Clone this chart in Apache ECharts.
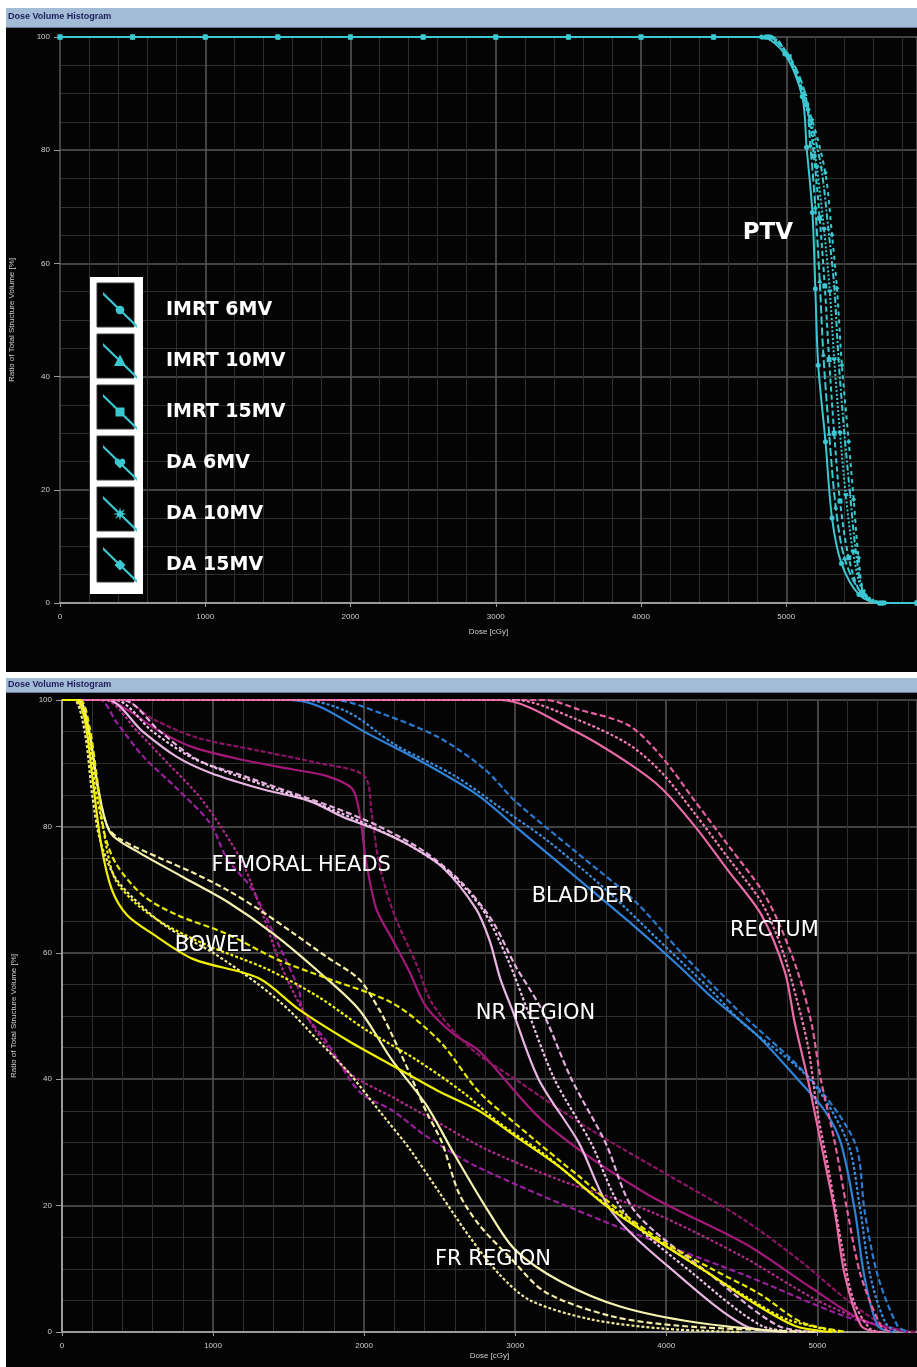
<!DOCTYPE html>
<html><head><meta charset="utf-8">
<script src="https://cdn.jsdelivr.net/npm/echarts@6/dist/echarts.min.js"></script>
<style>html,body{margin:0;padding:0;background:#fff}#c{width:917px;height:1367px}</style>
</head><body><div id="c"></div>
<script>
// ---------- DATA (dose cGy, volume %) ----------
const panelTitles = ['Dose Volume Histogram', 'Dose Volume Histogram'];
const xAxisName = 'Dose [cGy]';
const yAxisName = 'Ratio of Total Structure Volume [%]';

// Top panel: PTV, six plans
const planNames = ['IMRT 6MV', 'IMRT 10MV', 'IMRT 15MV', 'DA 6MV', 'DA 10MV', 'DA 15MV'];
const ptvPlateau = [[0,100],[500,100],[1000,100],[1500,100],[2000,100],[2500,100],[3000,100],[3500,100],[4000,100],[4500,100]];
const ptvImrt6MV  = [[4830,100],[4990,97],[5110,89.5],[5140,80.5],[5180,69],[5200,55.5],[5220,42],[5270,28.5],[5315,15],[5380,7],[5500,1.5],[5640,0],[5900,0]];
const ptvImrt10MV = [[4850,100],[5010,97],[5130,90],[5165,81],[5200,70],[5230,57],[5255,44],[5295,30],[5340,17],[5400,8],[5510,2],[5650,0],[5900,0]];
const ptvImrt15MV = [[4870,100],[5020,96.5],[5140,88],[5190,79],[5230,68],[5265,56],[5295,43],[5330,30],[5370,18],[5430,8],[5520,1.5],[5660,0],[5900,0]];
const ptvDa6MV    = [[4880,100],[5015,96.5],[5150,87],[5210,77],[5260,66],[5300,55],[5330,43],[5370,30],[5410,19],[5460,9],[5530,2],[5670,0],[5900,0]];
const ptvDa10MV   = [[4890,100],[5017,96.3],[5160,86],[5240,77],[5290,66],[5330,56],[5360,43],[5400,30],[5440,19],[5480,9],[5540,1.5],[5680,0],[5900,0]];
const ptvDa15MV   = [[4900,100],[5017,96.3],[5177,85.4],[5269,76],[5315,65],[5349,55.6],[5383,42],[5430,28.5],[5464,18.3],[5498,8],[5544,1.4],[5682,0],[5900,0]];
const ptvLabel = 'PTV';
const ptvLabelAt = [4700, 65.4];

// Bottom panel: organs at risk
const bladderA = [[0,100],[1500,100],[1700,99],[2000,95],[2400,90],[2750,85],[3000,80],[3400,72],[3750,65],[4080,58],[4300,53],[4600,47],[4870,40],[5050,35],[5155,30],[5250,19],[5310,9],[5400,1],[5500,0]];
const bladderB = [[0,100],[1800,100],[2100,98],[2500,94],[2800,89],[3000,84],[3400,76],[3800,68],[4100,60],[4470,51],[4957,40],[5248,30],[5314,19],[5399,9],[5530,1],[5600,0]];
const bladderC = [[0,100],[1600,100],[1900,98],[2200,93],[2600,88],[2900,83],[3200,78],[3600,70],[3950,62],[4300,54],[4500,49],[4950,40],[5200,30],[5280,20],[5350,9],[5450,1.5],[5530,0]];
const rectumA = [[0,100],[2900,100],[3400,95],[3750,90],[3970,86],[4190,80],[4410,73],[4630,66],[4785,57],[4850,49],[4937,40],[5023,30],[5116,19],[5182,9],[5290,1],[5400,0]];
const rectumB = [[0,100],[3200,100],[3420,98.5],[3750,96],[3970,91],[4190,84],[4410,77],[4630,70],[4740,65],[4870,57],[4960,49],[5023,40],[5116,30],[5200,19],[5287,9],[5420,1],[5480,0]];
const rectumC = [[0,100],[3000,100],[3400,97],[3750,93],[3970,88.5],[4190,82],[4410,75],[4630,68],[4760,61],[4860,53],[4940,45],[5000,35],[5080,25],[5160,14],[5240,5],[5350,0.5],[5440,0]];
const nrA = [[0,100],[300,100],[535,95],[760,91],[980,88.5],[1310,86],[1640,84],[1860,81.5],[2080,79.5],[2300,77],[2520,73.5],[2740,67],[2830,62],[2900,56],[2980,51],[3155,40],[3420,30],[3640,19],[4080,9],[4520,1],[4800,0]];
const nrB = [[0,100],[400,100],[650,95],[900,90.5],[1200,88],[1500,85.5],[1800,83],[2100,80],[2400,76],[2650,71],[2850,65],[3000,58],[3175,51],[3373,40],[3597,30],[3795,19],[4297,9],[4739,1],[5000,0]];
const nrC = [[0,100],[350,100],[600,95],[850,91],[1100,88.5],[1400,86],[1700,83.5],[2000,80.5],[2300,77],[2550,73],[2780,67],[2950,59],[3080,51],[3260,40],[3500,30],[3720,19],[4190,9],[4630,1],[4900,0]];
const bowelA = [[0,100],[90,100],[150,97],[200,88],[260,77],[330,70],[430,66],[600,63],[870,59],[1300,56],[1570,51],[1900,46],[2200,42],[2500,38],[2760,35],[3000,31],[3300,26],[3600,20],[3970,14],[4300,9],[4550,5],[4850,1],[5100,0]];
const bowelB = [[0,100],[120,100],[180,96],[230,88],[280,79],[360,74],[540,69],[760,66],[1090,63],[1420,59],[1750,56],[2190,52],[2500,46],[2760,38],[3000,33],[3300,27],[3420,24.7],[3700,19],[4000,14],[4300,10],[4620,6],[4900,1.5],[5200,0]];
const bowelC = [[0,100],[100,100],[165,96],[215,87],[270,80],[345,72],[480,68],[680,64.5],[980,61],[1350,57.5],[1700,53],[2000,48],[2350,43],[2650,38],[2900,33],[3200,28],[3500,22],[3850,16],[4200,10.5],[4500,6],[4800,2],[5150,0]];
const frA = [[0,100],[100,100],[170,96],[230,87],[300,80],[383,78],[647,75],[865,72.7],[1089,70],[1307,66.8],[1525,63.2],[1749,59.4],[1967,55.8],[2100,51],[2185,47],[2300,41],[2409,35],[2515,30],[2627,22],[2760,17],[2977,11.5],[3201,6.3],[3637,2.5],[4079,1],[4739,0.2],[5000,0]];
const frB = [[0,100],[80,100],[150,95],[200,85],[250,78],[350,72],[500,68],[700,64],[1000,60],[1300,55],[1500,51],[1700,46],[1900,41],[2100,35],[2300,29],[2500,22],[2700,15],[2900,9],[3100,5],[3500,2],[4000,0.5],[4500,0]];
const frC = [[0,100],[110,100],[180,95],[240,86],[320,79],[500,76],[800,72],[1100,68],[1400,63],[1700,57],[1967,51],[2185,43],[2409,36],[2600,28],[2825,19],[3000,13],[3300,8],[3700,4],[4200,1.5],[4800,0]];
const femoralA = [[0,100],[300,100],[430,98.5],[650,95],[870,92.5],[1200,90.5],[1530,89],[1750,88],[1920,86],[1970,82],[2010,75],[2080,67],[2190,62],[2300,57],[2410,51.5],[2600,47],[2760,44.5],[3200,33],[3860,22],[4520,14],[4960,7],[5290,2],[5600,0]];
const femoralB = [[0,100],[250,100],[360,96.5],[540,91],[760,86],[980,80.5],[1090,75],[1260,70],[1420,62],[1570,54],[1590,51],[1750,46],[1970,38],[2190,35],[2410,31],[2760,26],[3640,17],[4520,9],[5180,2.5],[5510,0.5],[5600,0]];
const femoralC = [[0,100],[280,100],[500,95],[700,90],[900,85],[1050,80],[1200,74],[1330,66],[1450,58],[1570,52],[1700,47],[1900,41],[2200,37],[2500,33],[2800,29],[3300,24],[3900,19],[4500,12],[5000,5],[5400,1],[5600,0]];
const femoralD = [[0,100],[400,100],[600,97],[900,94],[1300,92],[1700,90],[2000,88],[2050,82],[2100,74],[2200,66],[2350,58],[2450,52],[2700,45],[3000,40],[3500,32],[4000,25],[4500,18],[4900,11],[5200,5],[5450,1],[5650,0]];

const organLabels = ['FEMORAL HEADS', 'BOWEL', 'BLADDER', 'RECTUM', 'NR REGION', 'FR REGION'];
const organLabelAt = [[990,73.8],[746,61.1],[3109,68.9],[4422,63.5],[2739,50.4],[2469,11.4]];

const xTickInterval = 1000;
const yTickInterval = 20;
const topDoseMax = 5900;
const bottomDoseMax = 5660;

// ---------- CHART ----------
const chart = echarts.init(document.getElementById('c'), null, {renderer: 'canvas'});

const tickFont = {color: '#cfcfcf', fontSize: 8, fontFamily: 'Liberation Sans', formatter: v => String(v)};
function xAx(gi, max) {
  return {
    type: 'value', gridIndex: gi, min: 0, max: max, interval: xTickInterval,
    name: xAxisName, nameLocation: 'middle', nameGap: gi === 0 ? 25 : 20,
    nameTextStyle: {color: '#cfcfcf', fontSize: 8, fontFamily: 'Liberation Sans'},
    axisLine: {show: true, onZero: false, lineStyle: {color: '#9a9a9a', width: 2}},
    axisTick: {show: true, length: 4, lineStyle: {color: '#9a9a9a'}},
    axisLabel: Object.assign({showMaxLabel: false, margin: 10}, tickFont),
    splitLine: {show: true, lineStyle: {color: '#575757', width: 1.5}},
    minorTick: {show: true, splitNumber: 5, length: 0},
    minorSplitLine: {show: true, lineStyle: {color: '#2f2f2f', width: 1}}
  };
}
function yAx(gi) {
  return {
    type: 'value', gridIndex: gi, min: 0, max: 100, interval: yTickInterval,
    name: yAxisName, nameLocation: 'middle', nameGap: 44, nameRotate: 90,
    nameTextStyle: {color: '#cfcfcf', fontSize: 8, fontFamily: 'Liberation Sans'},
    axisLine: {show: gi === 1, lineStyle: {color: '#9a9a9a', width: 2}},
    axisTick: {show: true, length: 6, lineStyle: {color: '#9a9a9a'}},
    axisLabel: Object.assign({margin: 10}, tickFont),
    splitLine: {show: true, lineStyle: {color: '#575757', width: 1.5}},
    minorTick: {show: true, splitNumber: 4, length: 0},
    minorSplitLine: {show: true, lineStyle: {color: '#2f2f2f', width: 1}}
  };
}

const heart = 'path://M12,21L2,10C0,6,3,2,7,2C9,2,11,3,12,5C13,3,15,2,17,2C21,2,24,6,22,10Z';
const burst = 'path://M12,0L14,9L24,12L14,15L12,24L10,15L0,12L10,9Z';
const ptvStyles = [
  {sym: 'circle', dash: 'solid'},
  {sym: 'triangle', dash: [8, 3]},
  {sym: 'rect', dash: [5, 3]},
  {sym: heart, dash: [2, 2]},
  {sym: burst, dash: [6, 2, 2, 2]},
  {sym: 'diamond', dash: [4, 4]}
];
// legend icons: diagonal line with the plan's marker (34 x 36 box)
const band = 'M0,0L34,33L34,36L0,3Z';
const legendIcons = [
  'path://' + band + 'M21.5,18L20.2,21.2L17,22.5L13.8,21.2L12.5,18L13.8,14.8L17,13.5L20.2,14.8Z',
  'path://' + band + 'M17,11.5L23,23L11,23Z',
  'path://' + band + 'M12.5,13.5L21.5,13.5L21.5,22.5L12.5,22.5Z',
  'path://' + band + 'M17,23.5L12,18.5C11,16.5,12.5,13.5,14.5,13.5C15.8,13.5,16.5,14.3,17,15.3C17.5,14.3,18.2,13.5,19.5,13.5C21.5,13.5,23,16.5,22,18.5Z',
  'path://' + band + 'M17,11L18,15.5L22,13L19.5,17L24,18L19.5,19L22,23L18,20.5L17,25L16,20.5L12,23L14.5,19L10,18L14.5,17L12,13L16,15.5Z',
  'path://' + band + 'M17,12.5L22.5,18L17,23.5L11.5,18Z'
];
const ptvTails = [ptvImrt6MV, ptvImrt10MV, ptvImrt15MV, ptvDa6MV, ptvDa10MV, ptvDa15MV];
const cyan = '#3cc8d2';

const series = [];
ptvTails.forEach((tail, i) => {
  series.push({
    name: planNames[i], type: 'line', xAxisIndex: 0, yAxisIndex: 0,
    data: ptvPlateau.concat(tail), smooth: 0.3,
    symbol: ptvStyles[i].sym, symbolSize: 5, showSymbol: true,
    itemStyle: {color: cyan},
    lineStyle: {color: cyan, width: 2, type: ptvStyles[i].dash},
    z: 3
  });
});

const organCurves = [
  {n: 'Femoral heads A', d: femoralA, c: '#a3197a', t: 'solid'},
  {n: 'Femoral heads B', d: femoralB, c: '#9a1f9e', t: [6, 3]},
  {n: 'Femoral heads C', d: femoralC, c: '#b02a8c', t: [3, 2]},
  {n: 'Femoral heads D', d: femoralD, c: '#8c1466', t: [5, 2]},
  {n: 'NR region A', d: nrA, c: '#e9b5e3', t: 'solid'},
  {n: 'NR region B', d: nrB, c: '#e4aede', t: [6, 3]},
  {n: 'NR region C', d: nrC, c: '#f0c3ea', t: [3, 2]},
  {n: 'Bladder A', d: bladderA, c: '#2f82d8', t: 'solid'},
  {n: 'Bladder B', d: bladderB, c: '#2a7ad0', t: [6, 3]},
  {n: 'Bladder C', d: bladderC, c: '#3a8ee0', t: [3, 2]},
  {n: 'Rectum A', d: rectumA, c: '#ea6aa8', t: 'solid'},
  {n: 'Rectum B', d: rectumB, c: '#e4609f', t: [6, 3]},
  {n: 'Rectum C', d: rectumC, c: '#f07cb4', t: [3, 2]},
  {n: 'FR region A', d: frA, c: '#f3eea4', t: [6, 3]},
  {n: 'FR region B', d: frB, c: '#efe99a', t: [3, 2]},
  {n: 'FR region C', d: frC, c: '#f6f2b0', t: 'solid'},
  {n: 'Bowel A', d: bowelA, c: '#f2f200', t: 'solid'},
  {n: 'Bowel B', d: bowelB, c: '#e8e800', t: [6, 3]},
  {n: 'Bowel C', d: bowelC, c: '#f6f610', t: [3, 2]}
];
organCurves.forEach(o => {
  series.push({
    name: o.n, type: 'line', xAxisIndex: 1, yAxisIndex: 1, data: o.d,
    smooth: 0.3, showSymbol: false,
    lineStyle: {color: o.c, width: 2.2, type: o.t},
    itemStyle: {color: o.c}, z: 3
  });
});

// frame / title bars / legend box (layout only)
const staticGraphics = [
  {type: 'rect', shape: {x: 0, y: 0, width: 917, height: 8}, style: {fill: '#ffffff'}, z: 50},
  {type: 'rect', shape: {x: 0, y: 0, width: 6, height: 1367}, style: {fill: '#ffffff'}, z: 50},
  {type: 'rect', shape: {x: 6, y: 8, width: 911, height: 19}, style: {fill: '#a2bbd6'}, z: 50},
  {type: 'rect', shape: {x: 6, y: 27, width: 911, height: 1}, style: {fill: '#6a7c90'}, z: 50},
  {type: 'text', left: 8, top: 12, style: {text: panelTitles[0], fill: '#1d1d5a', font: 'bold 9px "Liberation Sans"'}, z: 51},
  {type: 'rect', shape: {x: 0, y: 672, width: 917, height: 6}, style: {fill: '#ffffff'}, z: 50},
  {type: 'rect', shape: {x: 6, y: 678, width: 911, height: 14}, style: {fill: '#a2bbd6'}, z: 50},
  {type: 'rect', shape: {x: 6, y: 692, width: 911, height: 1}, style: {fill: '#6a7c90'}, z: 50},
  {type: 'text', left: 8, top: 680, style: {text: panelTitles[1], fill: '#1d1d5a', font: 'bold 9px "Liberation Sans"'}, z: 51},
  {type: 'rect', shape: {x: 90, y: 277, width: 53, height: 317}, style: {fill: '#ffffff'}, z: 50}
];
[305, 356, 407, 458, 509, 560].forEach(c => {
  staticGraphics.push({type: 'rect', shape: {x: 97, y: c - 22, width: 37, height: 44},
    style: {fill: '#000000', stroke: '#3a3a3a', lineWidth: 1}, z: 51});
});

const labelStyle = {
  fill: '#ffffff', fontFamily: 'DejaVu Sans', fontSize: 21,
  textShadowColor: '#d9892a', textShadowOffsetX: -1.2, textShadowBlur: 0
};

chart.setOption({
  animation: false,
  backgroundColor: '#040404',
  grid: [
    {left: 60, top: 37, width: 857, height: 566, containLabel: false},
    {left: 62, top: 700, width: 855, height: 632, containLabel: false}
  ],
  xAxis: [xAx(0, topDoseMax), xAx(1, bottomDoseMax)],
  yAxis: [yAx(0), yAx(1)],
  legend: {
    data: planNames.map((n, i) => ({name: n, icon: legendIcons[i]})),
    orient: 'vertical', left: 98, top: 287,
    itemWidth: 34, itemHeight: 36, itemGap: 15, z: 60,
    itemStyle: {borderWidth: 0},
    textStyle: {color: '#ffffff', fontFamily: 'DejaVu Sans', fontWeight: 'bold', fontSize: 19,
      lineHeight: 24, padding: [0, 0, 0, 24], textShadowColor: '#d9892a', textShadowOffsetX: -1.2, textShadowBlur: 0},
    selectedMode: false
  },
  graphic: staticGraphics,
  series: series
});

// in-plot structure labels, placed through the axis scales
const labelGraphics = [];
const p = chart.convertToPixel({gridIndex: 0}, ptvLabelAt);
labelGraphics.push({type: 'text', x: p[0], y: p[1], z: 55,
  style: Object.assign({}, labelStyle, {text: ptvLabel, fontWeight: 'bold', fontSize: 23, verticalAlign: 'middle', align: 'left'})});
organLabels.forEach((t, i) => {
  const q = chart.convertToPixel({gridIndex: 1}, organLabelAt[i]);
  labelGraphics.push({type: 'text', x: q[0], y: q[1], z: 55,
    style: Object.assign({}, labelStyle, {text: t, verticalAlign: 'middle', align: 'left'})});
});
chart.setOption({graphic: staticGraphics.concat(labelGraphics)});
</script>
</body></html>
